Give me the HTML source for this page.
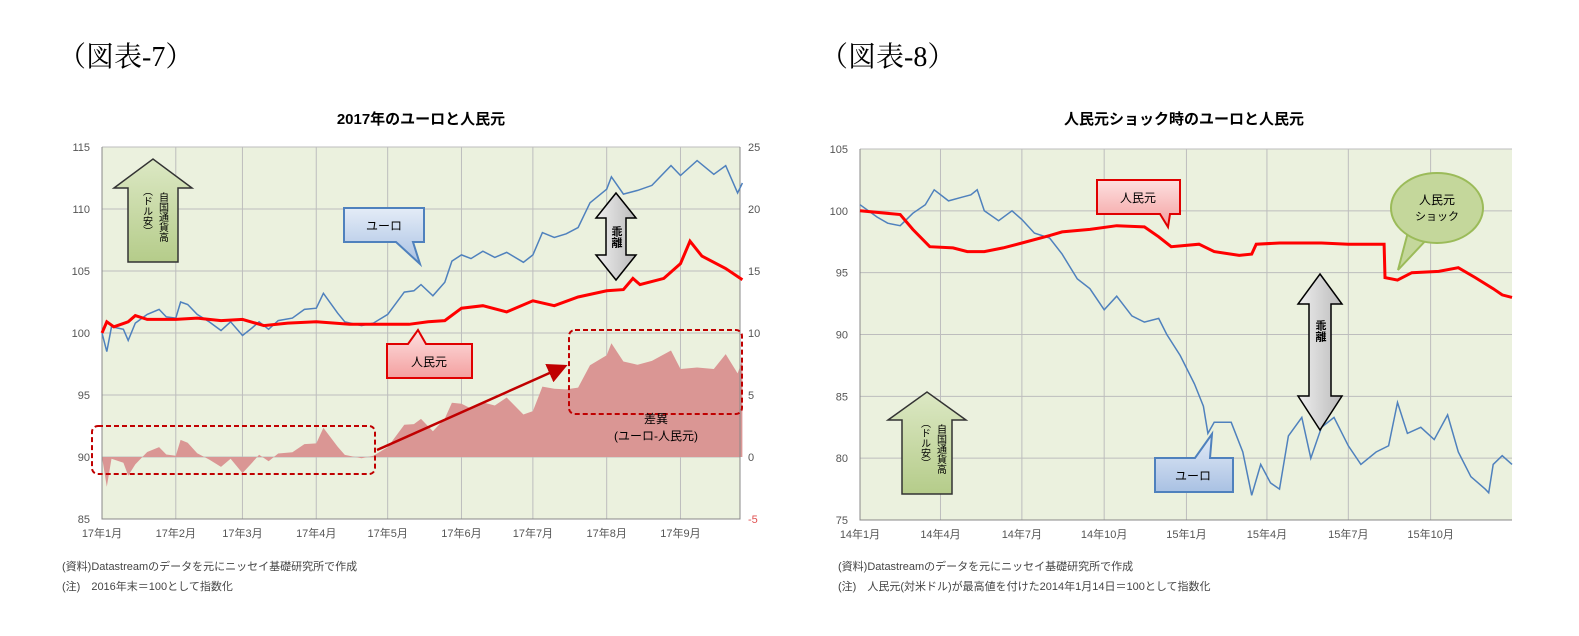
<!DOCTYPE html>
<html><head><meta charset="utf-8">
<style>
body{margin:0;background:#fff;width:1579px;height:631px;overflow:hidden;font-family:"Liberation Sans","Noto Sans CJK JP",sans-serif;}
svg text{font-family:"Liberation Sans","Noto Sans CJK JP",sans-serif;}
svg text.serif{font-family:"Liberation Serif","Noto Serif CJK SC",serif;}
svg text.vt{writing-mode:vertical-rl;text-orientation:upright;}
</style></head>
<body>
<svg id="s" width="1579" height="631" xmlns="http://www.w3.org/2000/svg">
<defs>
<linearGradient id="gb" x1="0" y1="0" x2="0" y2="1"><stop offset="0" stop-color="#e4ecf7"/><stop offset="1" stop-color="#a9c1e3"/></linearGradient>
<linearGradient id="gr" x1="0" y1="0" x2="0" y2="1"><stop offset="0" stop-color="#fde0e0"/><stop offset="1" stop-color="#f4a0a0"/></linearGradient>
<linearGradient id="gg" x1="0" y1="0" x2="0" y2="1"><stop offset="0" stop-color="#dce8c4"/><stop offset="1" stop-color="#b5cc8a"/></linearGradient>
<linearGradient id="gx" x1="0" y1="0" x2="1" y2="0"><stop offset="0" stop-color="#eee"/><stop offset="1" stop-color="#bbb"/></linearGradient>
<marker id="ah" markerWidth="8" markerHeight="8" refX="6" refY="4" orient="auto"><path d="M0,0 L8,4 L0,8 z" fill="#c00000"/></marker>
</defs>
<text class="serif" x="58" y="66" font-size="28">（図表-7）</text>
<text class="serif" x="820" y="66" font-size="28">（図表-8）</text>
<g id="c1"></g><g id="c2"></g>
</svg>
<script>
// ===== Chart 1 data (2017) =====
const c1EuroDates=["1/1","1/3","1/5","1/10","1/12","1/15","1/20","1/25","1/28","2/1","2/3","2/6","2/10","2/15","2/20","2/24","3/1","3/5","3/8","3/12","3/16","3/22","3/27","4/1","4/4","4/10","4/13","4/20","4/25","5/1","5/8","5/12","5/15","5/20","5/25","5/28","6/1","6/5","6/10","6/15","6/20","6/27","7/1","7/5","7/10","7/15","7/20","7/25","8/1","8/3","8/8","8/14","8/20","8/28","9/1","9/8","9/15","9/20","9/25","9/27"];
const c1Euro=[100,98.5,100.5,100.3,99.4,100.8,101.5,101.9,101.3,101.2,102.5,102.3,101.5,100.9,100.2,100.9,99.8,100.4,100.9,100.3,101.0,101.2,101.9,102.0,103.2,101.6,100.9,100.6,100.8,101.5,103.3,103.4,103.9,103.0,104.1,105.8,106.3,106.0,106.6,106.1,106.5,105.7,106.3,108.1,107.7,108.0,108.5,110.5,111.6,112.6,111.2,111.5,111.9,113.5,112.7,113.9,112.8,113.5,111.3,112.1];
const c1CnyDates=["1/1","1/3","1/6","1/12","1/15","1/20","1/25","2/1","2/10","2/20","3/1","3/10","3/20","4/1","4/15","5/1","5/10","5/18","5/25","6/1","6/10","6/20","7/1","7/10","7/20","8/1","8/8","8/12","8/15","8/25","9/1","9/5","9/10","9/20","9/27"];
const c1Cny=[100.0,100.9,100.5,100.9,101.4,101.1,101.1,101.1,101.2,101.0,101.1,100.6,100.8,100.9,100.7,100.7,100.7,100.9,101.0,102.0,102.2,101.7,102.6,102.2,102.9,103.4,103.5,104.4,103.9,104.4,105.6,107.4,106.2,105.2,104.3];
const c1Ticks=["17年1月","17年2月","17年3月","17年4月","17年5月","17年6月","17年7月","17年8月","17年9月"];
const c1YL=[85,90,95,100,105,110,115];
const c1YR=[-5,0,5,10,15,20,25];
// ===== Chart 2 data (2014-2015) =====
const c2EuroDates=["14/1/1","14/1/20","14/2/1","14/2/15","14/3/1","14/3/15","14/3/25","14/4/10","14/4/25","14/5/5","14/5/12","14/5/20","14/6/5","14/6/20","14/7/1","14/7/15","14/8/1","14/8/15","14/9/1","14/9/15","14/10/1","14/10/15","14/11/1","14/11/15","14/12/1","14/12/10","14/12/25","15/1/10","15/1/20","15/1/25","15/2/1","15/2/20","15/3/5","15/3/15","15/3/25","15/4/5","15/4/15","15/4/25","15/5/10","15/5/20","15/6/1","15/6/15","15/7/1","15/7/15","15/8/1","15/8/15","15/8/25","15/9/5","15/9/20","15/10/5","15/10/20","15/11/1","15/11/15","15/12/1","15/12/5","15/12/10","15/12/20","15/12/31"];
const c2Euro=[100.5,99.5,99.0,98.8,99.8,100.5,101.7,100.8,101.1,101.3,101.7,100.0,99.2,100.0,99.3,98.2,97.8,96.5,94.5,93.7,92.0,93.1,91.5,91.0,91.3,90.0,88.3,86.0,84.2,82.0,82.9,82.9,80.5,77.0,79.5,78.0,77.5,81.8,83.3,80.0,82.5,83.3,81.0,79.5,80.5,81.0,84.5,82.0,82.5,81.5,83.5,80.5,78.5,77.5,77.2,79.5,80.2,79.5];
const c2CnyDates=["14/1/1","14/2/15","14/3/1","14/3/20","14/4/15","14/5/1","14/5/20","14/6/10","14/7/1","14/8/1","14/8/15","14/9/15","14/10/15","14/11/15","14/12/1","14/12/15","15/1/15","15/2/1","15/3/1","15/3/15","15/3/20","15/4/15","15/6/1","15/7/1","15/8/10","15/8/11","15/8/25","15/9/10","15/10/10","15/11/1","15/11/20","15/12/10","15/12/20","15/12/31"];
const c2Cny=[100,99.7,98.5,97.1,97.0,96.7,96.7,97.0,97.4,98.0,98.3,98.5,98.8,98.7,97.9,97.1,97.3,96.7,96.4,96.5,97.3,97.4,97.4,97.3,97.3,94.6,94.4,95.0,95.1,95.4,94.6,93.7,93.2,93.0];
const c2YL=[75,80,85,90,95,100,105];
const c2Ticks=["14年1月","14年4月","14年7月","14年10月","15年1月","15年4月","15年7月","15年10月"];

const NS="http://www.w3.org/2000/svg";
function mk(p,t,a,txt){const e=document.createElementNS(NS,t);for(const k in a)e.setAttribute(k,a[k]);if(txt!=null)e.textContent=txt;p.appendChild(e);return e;}
const CUM=[0,31,59,90,120,151,181,212,243,273,304,334];
function doy(s){const p=s.split("/").map(Number);return CUM[p[0]-1]+p[1]-1;}
function d2(s){const p=s.split("/").map(Number);return (p[0]-14)*365+CUM[p[1]-1]+p[2]-1;}

// ---------- Chart 1 ----------
(function(){
const g=document.getElementById('c1');
const L=102,R=740,T=147,B=519,D0=0,D1=268;
const x=d=>L+(d-D0)/(D1-D0)*(R-L);
const y=v=>B-(v-85)/30*(B-T);
const yr=v=>B-(v+5)/30*(B-T);
let t=mk(g,'text',{x:421,y:124,'font-size':15,'font-weight':'bold','text-anchor':'middle'},'2017年のユーロと人民元');

let r=mk(g,'rect',{x:L,y:T,width:R-L,height:B-T,fill:'#ebf1de'});

c1YL.forEach((v,i)=>{
 let l=mk(g,'line',{x1:L,x2:R,y1:y(v),y2:y(v),stroke:'#bdbdbd','stroke-width':1});
 
 let a=mk(g,'text',{x:L-12,y:y(v)+4,'font-size':11,fill:'#555','text-anchor':'end'},String(v));
 
 let b=mk(g,'text',{x:R+8,y:yr(c1YR[i])+4,'font-size':11,fill:c1YR[i]<0?'#e05050':'#555'},String(c1YR[i]));
 
});
c1Ticks.forEach((s,i)=>{
 const xx=x(CUM[i]);
 let l=mk(g,'line',{x1:xx,x2:xx,y1:T,y2:B,stroke:'#bdbdbd','stroke-width':1});
 
 let a=mk(g,'text',{x:xx,y:B+18,'font-size':11,fill:'#555','text-anchor':'middle'},s);
 
});
const cd=c1CnyDates.map(doy);
function cnyAt(d){for(let i=1;i<cd.length;i++){if(d<=cd[i]){const f=(d-cd[i-1])/(cd[i]-cd[i-1]);return c1Cny[i-1]+f*(c1Cny[i]-c1Cny[i-1]);}}return c1Cny[c1Cny.length-1];}
const ed=c1EuroDates.map(doy);
let dp='M'+x(ed[0])+','+yr(0);
ed.forEach((d,i)=>{dp+=' L'+x(d).toFixed(1)+','+yr(c1Euro[i]-cnyAt(d)).toFixed(1);});
dp+=' L'+x(ed[ed.length-1])+','+yr(0)+' Z';
let ar=mk(g,'path',{d:dp,fill:'#da9694'});

let ax=mk(g,'path',{d:`M${L},${T} V${B} H${R} V${T}`,stroke:'#888',fill:'none'});

let pe=mk(g,'polyline',{points:ed.map((d,i)=>x(d).toFixed(1)+','+y(c1Euro[i]).toFixed(1)).join(' '),fill:'none',stroke:'#4f81bd','stroke-width':1.5});

let pc=mk(g,'polyline',{points:cd.map((d,i)=>x(d).toFixed(1)+','+y(c1Cny[i]).toFixed(1)).join(' '),fill:'none',stroke:'#ff0000','stroke-width':3});

let b1=mk(g,'rect',{x:92,y:426,width:283,height:48,rx:6,fill:'none',stroke:'#c00000','stroke-width':2,'stroke-dasharray':'5,3'});

let b2=mk(g,'rect',{x:569,y:330,width:173,height:84,rx:6,fill:'none',stroke:'#c00000','stroke-width':2,'stroke-dasharray':'5,3'});

let arw=mk(g,'line',{x1:377,y1:450,x2:563,y2:367,stroke:'#c00000','stroke-width':2.5,'marker-end':'url(#ah)'});

let dt=mk(g,'text',{x:656,y:423,'font-size':12,'text-anchor':'middle'},'差異');

let dt2=mk(g,'text',{x:656,y:440,'font-size':12,'text-anchor':'middle'},'(ユーロ-人民元)');

let ga=mk(g,'path',{d:'M114,188 L153,159 L192,188 L178,188 L178,262 L128,262 L128,188 Z',fill:'url(#gg)',stroke:'#333','stroke-width':1.5});

let gt=mk(g,'text',{class:'vt',x:162,y:192,'font-size':10},'自国通貨高');

let gt2=mk(g,'text',{class:'vt',x:146,y:186,'font-size':10},'︵ドル安︶');

let eb=mk(g,'path',{d:'M344,208 H424 V242 H413 L420,264 L396,242 H344 Z',fill:'url(#gb)',stroke:'#4f81bd','stroke-width':2});

let et=mk(g,'text',{x:384,y:230,'font-size':12,'text-anchor':'middle'},'ユーロ');

let rb=mk(g,'path',{d:'M387,344 H408 L418,330 L426,344 H472 V378 H387 Z',fill:'url(#gr)',stroke:'#e00000','stroke-width':2});

let rt=mk(g,'text',{x:429,y:366,'font-size':12,'text-anchor':'middle'},'人民元');

let da=mk(g,'path',{d:'M616,193 L636,218 H626 V255 H636 L616,280 L596,255 H606 V218 H596 Z',fill:'url(#gx)',stroke:'#000','stroke-width':1.5});

let dtx=mk(g,'text',{class:'vt',x:616,y:226,'font-size':11,'font-weight':'bold'},'乖離');

let n1=mk(g,'text',{x:62,y:570,'font-size':11,fill:'#444'},'(資料)Datastreamのデータを元にニッセイ基礎研究所で作成');

let n2=mk(g,'text',{x:62,y:590,'font-size':11,fill:'#444'},'(注)　2016年末＝100として指数化');

})();

// ---------- Chart 2 ----------
(function(){
const g=document.getElementById('c2');
const L=860,R=1512,T=149,B=520,D1=729;
const x=d=>L+d/D1*(R-L);
const y=v=>B-(v-75)/30*(B-T);
let t=mk(g,'text',{x:1184,y:124,'font-size':15,'font-weight':'bold','text-anchor':'middle'},'人民元ショック時のユーロと人民元');

let r=mk(g,'rect',{x:L,y:T,width:R-L,height:B-T,fill:'#ebf1de'});

c2YL.forEach(v=>{
 let l=mk(g,'line',{x1:L,x2:R,y1:y(v),y2:y(v),stroke:'#bdbdbd'});
 
 let a=mk(g,'text',{x:L-12,y:y(v)+4,'font-size':11,fill:'#555','text-anchor':'end'},String(v));
 
});
c2Ticks.forEach((s,i)=>{
 const m=i*3, d=(m>=12?365:0)+CUM[m%12];
 const xx=x(d);
 let l=mk(g,'line',{x1:xx,x2:xx,y1:T,y2:B,stroke:'#bdbdbd'});
 
 let a=mk(g,'text',{x:xx,y:B+18,'font-size':11,fill:'#555','text-anchor':'middle'},s);
 
});
let ax=mk(g,'path',{d:`M${L},${T} V${B} H${R}`,stroke:'#888',fill:'none'});

let pe=mk(g,'polyline',{points:c2EuroDates.map((s,i)=>x(d2(s)).toFixed(1)+','+y(c2Euro[i]).toFixed(1)).join(' '),fill:'none',stroke:'#4f81bd','stroke-width':1.5});

let pc=mk(g,'polyline',{points:c2CnyDates.map((s,i)=>x(d2(s)).toFixed(1)+','+y(c2Cny[i]).toFixed(1)).join(' '),fill:'none',stroke:'#ff0000','stroke-width':3});

let rb=mk(g,'path',{d:'M1097,180 H1180 V214 H1170 L1168,227 L1160,214 H1097 Z',fill:'url(#gr)',stroke:'#e00000','stroke-width':2});

let rt=mk(g,'text',{x:1138,y:202,'font-size':12,'text-anchor':'middle'},'人民元');

let sb=mk(g,'path',{d:'M1408,232 L1398,270 L1428,238 Z',fill:'#c4d79b',stroke:'#9bbb59','stroke-width':2});

let se=mk(g,'ellipse',{cx:1437,cy:208,rx:46,ry:35,fill:'#c4d79b',stroke:'#9bbb59','stroke-width':2});

let st=mk(g,'text',{x:1437,y:204,'font-size':12,'text-anchor':'middle'},'人民元');

let st2=mk(g,'text',{x:1437,y:220,'font-size':11,'text-anchor':'middle'},'ショック');

let eb=mk(g,'path',{d:'M1155,492 V458 H1195 L1212,434 L1210,458 H1233 V492 Z',fill:'url(#gb)',stroke:'#4f81bd','stroke-width':2});

let et=mk(g,'text',{x:1193,y:480,'font-size':12,'text-anchor':'middle'},'ユーロ');

let da=mk(g,'path',{d:'M1320,274 L1342,304 H1331 V396 H1342 L1320,430 L1298,396 H1309 V304 H1298 Z',fill:'url(#gx)',stroke:'#000','stroke-width':1.5});

let dtx=mk(g,'text',{class:'vt',x:1320,y:320,'font-size':11,'font-weight':'bold'},'乖離');

let ga=mk(g,'path',{d:'M888,420 L927,392 L966,420 L952,420 L952,494 L902,494 L902,420 Z',fill:'url(#gg)',stroke:'#333','stroke-width':1.5});

let gt=mk(g,'text',{class:'vt',x:940,y:424,'font-size':10},'自国通貨高');

let gt2=mk(g,'text',{class:'vt',x:924,y:418,'font-size':10},'︵ドル安︶');

let n1=mk(g,'text',{x:838,y:570,'font-size':11,fill:'#444'},'(資料)Datastreamのデータを元にニッセイ基礎研究所で作成');

let n2=mk(g,'text',{x:838,y:590,'font-size':11,fill:'#444'},'(注)　人民元(対米ドル)が最高値を付けた2014年1月14日＝100として指数化');

})();
</script>
</body></html>
